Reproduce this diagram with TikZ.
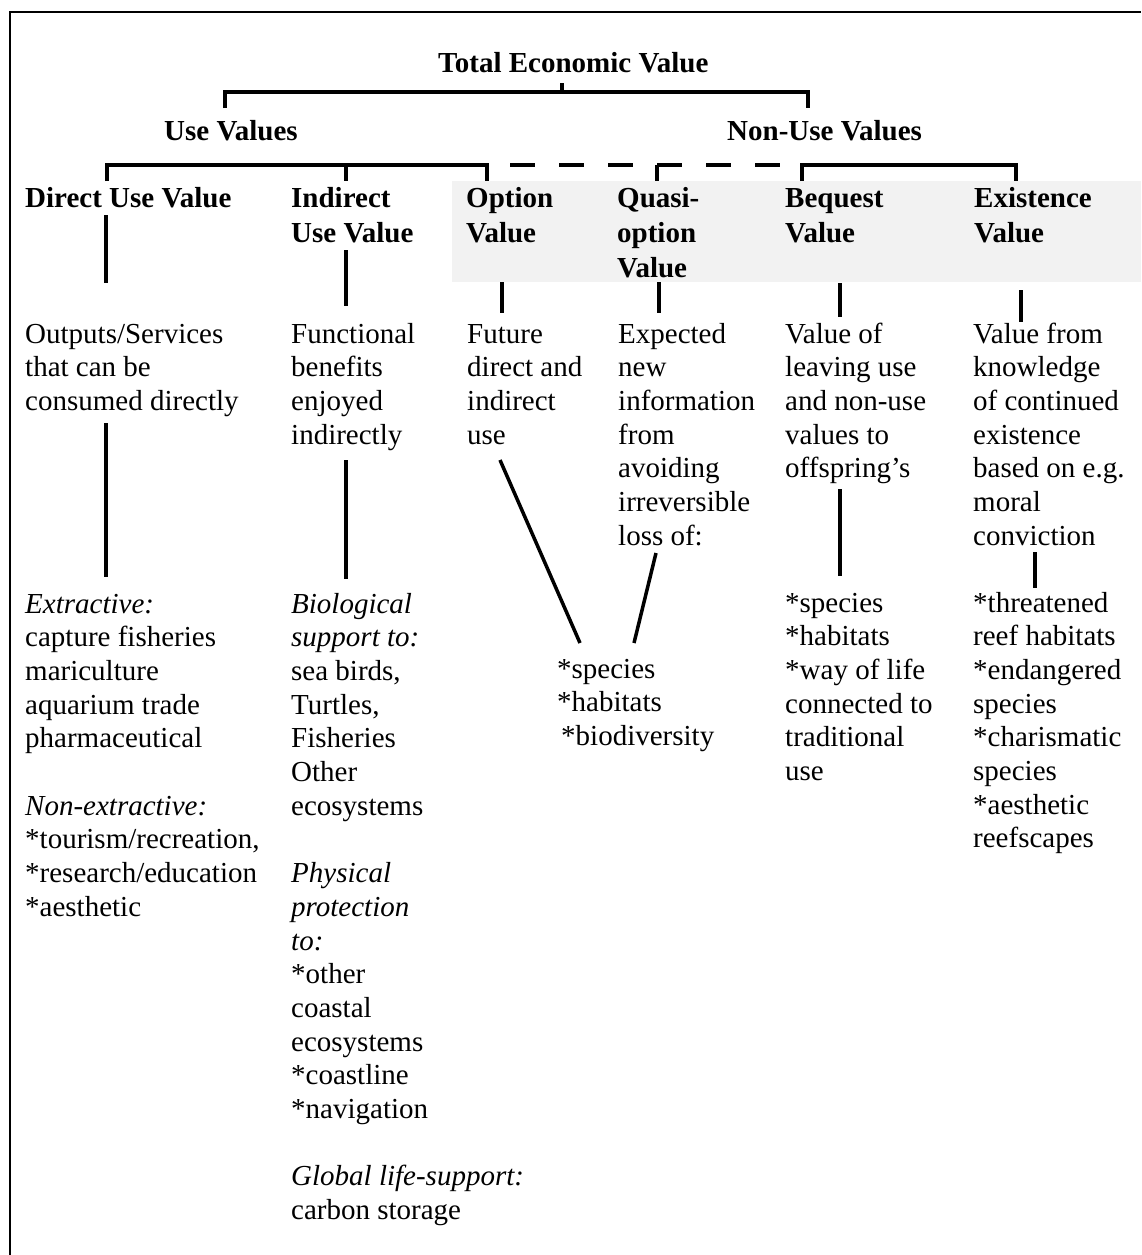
\documentclass[tikz,border=0pt]{standalone}
\usepackage{fontspec}
\setmainfont{Liberation Serif}
\newcommand{\rows}[1]{\begin{tabular}[t]{@{}l@{}}#1\end{tabular}}
\definecolor{boxgrey}{RGB}{242,242,242}
\begin{document}
\begin{tikzpicture}[x=1pt,y=-1pt,
  txt/.style={anchor=base west, inner sep=0pt, font=\fontsize{29}{33.7}\selectfont},
  hd/.style={anchor=base west, inner sep=0pt, font=\fontsize{29}{35}\selectfont\bfseries},
  conn/.style={line width=3.5pt},
  dconn/.style={line width=3.5pt, dash pattern=on 25pt off 24pt},
  frame/.style={line width=2pt}]
\useasboundingbox (0,0) rectangle (1141,1255);
% frame
\draw[frame] (10,1255) -- (10,12) -- (1141,12);
% grey band
\fill[boxgrey] (452,181) rectangle (1141,282);

% top level
\node[hd] (tev) at (438,73) {Total Economic Value};
\node[hd] (use) at (164,140) {Use Values};
\node[hd] (nonuse) at (727,140) {Non-Use Values};

% headings
\node[hd] (h1) at (25,207) {Direct Use Value};
\node[hd] (h2) at (291,207) {\rows{Indirect\\Use Value}};
\node[hd] (h3) at (466,207) {\rows{Option\\Value}};
\node[hd] (h4) at (617,207) {\rows{Quasi-\\option\\Value}};
\node[hd] (h5) at (785,207) {\rows{Bequest\\Value}};
\node[hd] (h6) at (974,207) {\rows{Existence\\Value}};

% descriptions
\node[txt] (b1) at (25,343) {\rows{Outputs/Services\\that can be\\consumed directly}};
\node[txt] (b2) at (291,343) {\rows{Functional\\benefits\\enjoyed\\indirectly}};
\node[txt] (b3) at (467,343) {\rows{Future\\direct and\\indirect\\use}};
\node[txt] (b4) at (618,343) {\rows{Expected\\new\\information\\from\\avoiding\\irreversible\\loss of:}};
\node[txt] (b5) at (785,343) {\rows{Value of\\leaving use\\and non-use\\values to\\offspring’s}};
\node[txt] (b6) at (973,343) {\rows{Value from\\knowledge\\of continued\\existence\\based on e.g.\\moral\\conviction}};

% examples
\node[txt] (l1) at (25,613) {\rows{\textit{Extractive:}\\capture fisheries\\mariculture\\aquarium trade\\pharmaceutical\\ \\\textit{Non-extractive:}\\{*}tourism/recreation,\\{*}research/education\\{*}aesthetic}};
\node[txt] (l2) at (291,613) {\rows{\textit{Biological}\\\textit{support to:}\\sea birds,\\Turtles,\\Fisheries\\Other\\ecosystems\\ \\\textit{Physical}\\\textit{protection}\\\textit{to:}\\{*}other\\coastal\\ecosystems\\{*}coastline\\{*}navigation\\ \\\textit{Global life-support:}\\carbon storage}};
\node[txt] (l34) at (557,678) {\rows{{*}species\\{*}habitats\\\hspace{4pt}{*}biodiversity}};
\node[txt] (l5) at (785,612) {\rows{{*}species\\{*}habitats\\{*}way of life\\connected to\\traditional\\use}};
\node[txt] (l6) at (973,612) {\rows{{*}threatened\\reef habitats\\{*}endangered\\species\\{*}charismatic\\species\\{*}aesthetic\\reefscapes}};

% bracket coordinates
\coordinate (t0) at (562,83);
\coordinate (t1) at (562,92);
\coordinate (tl) at (225,92);
\coordinate (tr) at (808,92);
\coordinate (tla) at (225,108);
\coordinate (tra) at (808,108);
\draw[conn] (tla) -- (tl) -- (tr) -- (tra);
\draw[conn] (t0) -- (t1);

\coordinate (u1) at (107,165);
\coordinate (u1a) at (107,181);
\coordinate (u2) at (346,165);
\coordinate (u2a) at (346,181);
\coordinate (u3) at (487,165);
\coordinate (u3a) at (487,181);
\draw[conn] (u1a) -- (u1) -- (u3) -- (u3a);
\draw[conn] (u2) -- (u2a);

\coordinate (d0) at (510,165);
\coordinate (d1) at (802,165);
\draw[dconn] (d0) -- (d1);
\coordinate (q1) at (657,165);
\coordinate (q1a) at (657,181);
\draw[conn] (q1) -- (q1a);

\coordinate (n1) at (802,165);
\coordinate (n1a) at (802,181);
\coordinate (n2) at (1016,165);
\coordinate (n2a) at (1016,181);
\draw[conn] (n1a) -- (n1) -- (n2) -- (n2a);

% column connectors
\coordinate (c1a) at (106,215); \coordinate (c1b) at (106,283);
\coordinate (c1c) at (106,423); \coordinate (c1d) at (106,577);
\coordinate (c2a) at (346,250); \coordinate (c2b) at (346,306);
\coordinate (c2c) at (346,460); \coordinate (c2d) at (346,579);
\coordinate (c3a) at (502,282); \coordinate (c3b) at (502,313);
\coordinate (c3c) at (500,460); \coordinate (c3d) at (580,643);
\coordinate (c4a) at (659,282); \coordinate (c4b) at (659,313);
\coordinate (c4c) at (656,553); \coordinate (c4d) at (634,643);
\coordinate (c5a) at (840,283); \coordinate (c5b) at (840,317);
\coordinate (c5c) at (840,489); \coordinate (c5d) at (840,576);
\coordinate (c6a) at (1021,290); \coordinate (c6b) at (1021,322);
\coordinate (c6c) at (1035,552); \coordinate (c6d) at (1035,588);
\foreach \c in {1,...,6}{
  \draw[conn] (c\c a) -- (c\c b);
  \draw[conn] (c\c c) -- (c\c d);
}
\end{tikzpicture}
\end{document}
